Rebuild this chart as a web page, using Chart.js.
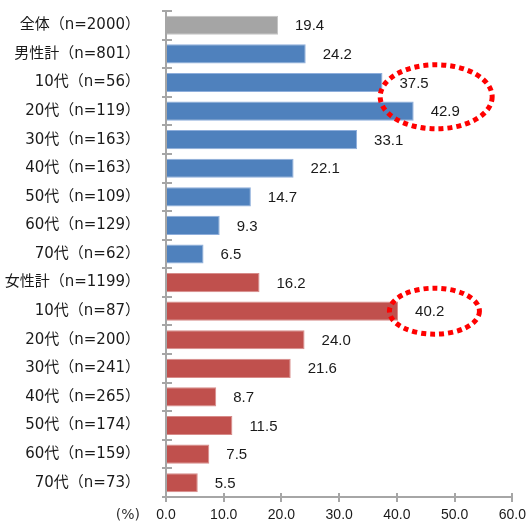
<!DOCTYPE html>
<html>
<head>
<meta charset="utf-8">
<script src="https://cdn.jsdelivr.net/npm/chart.js@4"></script>
<style>
  html, body { margin: 0; padding: 0; background: #fff; }
  #wrap { width: 531px; height: 521px; }
</style>
</head>
<body>
<div id="wrap"><canvas id="bar_chart"></canvas></div>
<script>
// Catégories (axe Y) et groupes
var labels = ['全体（n=2000）', '男性計（n=801）', '10代（n=56）', '20代（n=119）', '30代（n=163）',
	'40代（n=163）', '50代（n=109）', '60代（n=129）', '70代（n=62）', '女性計（n=1199）',
	'10代（n=87）', '20代（n=200）', '30代（n=241）', '40代（n=265）', '50代（n=174）',
	'60代（n=159）', '70代（n=73）'];
var groups = ['all', 'male', 'male', 'male', 'male', 'male', 'male', 'male', 'male',
	'female', 'female', 'female', 'female', 'female', 'female', 'female', 'female'];
var values = [19.4, 24.2, 37.5, 42.9, 33.1, 22.1, 14.7, 9.3, 6.5, 16.2, 40.2, 24.0, 21.6, 8.7, 11.5, 7.5, 5.5];
var x_ticks = [0, 10, 20, 30, 40, 50, 60];

var colors = { all: '#a5a5a5', male: '#4f81bd', female: '#c0504d' };
var borders = { all: '#c4c4c4', male: '#8eaedb', female: '#d78c8a' };
var axis_color = '#a6a6a6';
var num_font = '"Liberation Sans", Arial, sans-serif';
var jp_font = '"DejaVu Sans", "Noto Sans CJK JP", sans-serif';

// Valeurs écrites à droite des barres, repères croisés et unité sous l'axe
var valueLabels = {
	id: 'valueLabels',
	afterDatasetsDraw: function (chart) {
		var ctx = chart.ctx;
		var meta = chart.getDatasetMeta(0);
		var x = chart.scales.x, y = chart.scales.y;
		ctx.save();
		ctx.font = '15px ' + num_font;
		ctx.fillStyle = '#1a1a1a';
		ctx.textAlign = 'left';
		ctx.textBaseline = 'middle';
		meta.data.forEach(function (bar, i) {
			ctx.fillText(values[i].toFixed(1), bar.x + 17, bar.y + 1);
		});
		// partie intérieure des repères
		ctx.strokeStyle = axis_color;
		ctx.lineWidth = 2;
		for (var k = 0; k <= labels.length; k++) {
			var py = Math.round(y.getPixelForValue(k - 0.5));
			ctx.beginPath();
			ctx.moveTo(y.right, py);
			ctx.lineTo(y.right + 6, py);
			ctx.stroke();
		}
		x_ticks.forEach(function (v) {
			var px = Math.round(x.getPixelForValue(v));
			ctx.beginPath();
			ctx.moveTo(px, x.top);
			ctx.lineTo(px, x.top - 4);
			ctx.stroke();
		});
		ctx.font = '14px ' + jp_font;
		ctx.fillStyle = '#333';
		ctx.textAlign = 'right';
		ctx.fillText('(%)', 140, x.top + 18);
		ctx.restore();
	}
};

// Ellipses pointillées rouges autour des valeurs élevées
var highlights = [
	{ x: 46.8, y: 2.5, rx: 56, ry: 32 },
	{ x: 46.5, y: 10, rx: 45, ry: 23 }
];
var ellipses = {
	id: 'ellipses',
	afterDraw: function (chart) {
		var ctx = chart.ctx;
		ctx.save();
		ctx.strokeStyle = '#ff0000';
		ctx.lineWidth = 5;
		ctx.setLineDash([5, 4]);
		highlights.forEach(function (h) {
			var cx = chart.scales.x.getPixelForValue(h.x);
			var cy = chart.scales.y.getPixelForValue(h.y);
			ctx.beginPath();
			ctx.ellipse(cx, cy, h.rx, h.ry, 0, 0, Math.PI * 2);
			ctx.stroke();
		});
		ctx.restore();
	}
};

var bar_chart = new Chart(document.getElementById('bar_chart'), {
	type: 'bar',
	data: {
		labels: labels,
		datasets: [{
			data: values,
			backgroundColor: groups.map(function (g) { return colors[g]; }),
			borderColor: groups.map(function (g) { return borders[g]; }),
			borderWidth: 1,
			barPercentage: 0.67,
			categoryPercentage: 1
		}]
	},
	options: {
		indexAxis: 'y',
		responsive: true,
		maintainAspectRatio: false,
		animation: false,
		layout: { padding: { top: 11, right: 14, left: 0, bottom: 0 } },
		plugins: { legend: { display: false }, tooltip: { enabled: false } },
		scales: {
			x: {
				min: 0, max: 60,
				afterBuildTicks: function (scale) { scale.ticks = x_ticks.map(function (v) { return { value: v }; }); },
				afterFit: function (scale) { scale.height = 24; },
				border: { color: axis_color, width: 2 },
				grid: { drawOnChartArea: false, drawTicks: true, tickLength: 5, color: axis_color, lineWidth: 2 },
				ticks: {
					color: '#1a1a1a', padding: 5,
					font: { family: num_font, size: 14 },
					callback: function (v) { return v.toFixed(1); }
				}
			},
			y: {
				afterFit: function (scale) {
					scale.width = 166;
					scale.paddingTop = 0;
					scale.paddingBottom = 0;
				},
				border: { color: axis_color, width: 2 },
				grid: { offset: true, drawOnChartArea: false, drawTicks: true, tickLength: 4, color: axis_color, lineWidth: 2 },
				ticks: {
					color: '#1a1a1a', padding: 22,
					font: { family: jp_font, size: 15 }
				}
			}
		}
	},
	plugins: [valueLabels, ellipses]
});
</script>
</body>
</html>
